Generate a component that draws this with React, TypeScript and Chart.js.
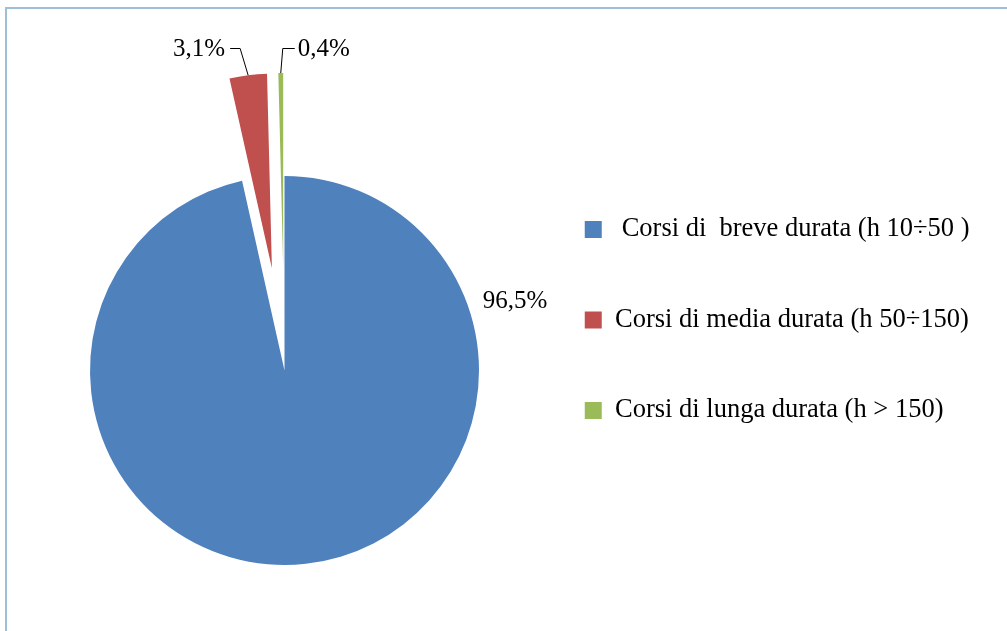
import React, { useEffect, useRef } from 'react';
import { Chart, registerables } from 'chart.js';

Chart.register(...registerables);

// ---- data ----
const categories = [
  ' Corsi di  breve durata (h 10÷50 )',
  'Corsi di media durata (h 50÷150)',
  'Corsi di lunga durata (h > 150)',
];
const values = [96.5, 3.1, 0.4];
const valueLabels = ['96,5%', '3,1%', '0,4%'];

// ---- styles ----
const colors = ['#4F81BD', '#C0504D', '#9BBB59'];
const explode = [0, 103, 103];
// label placement: 'ring' = free text at angle/distance; 'leader' = elbow leader line
const labelSpecs: any[] = [
  { kind: 'ring', angleDeg: -16.6, dist: 46 },
  { kind: 'leader', dx: -8, dy: -27, h: -10, gap: 5 },
  { kind: 'leader', dx: 2, dy: -25, h: 12, gap: 3 },
];

const explodePlugin = {
  id: 'explodeSlices',
  beforeDatasetDraw(chart: any, args: any) {
    const ctx = chart.ctx;
    args.meta.data.forEach((arc: any, i: number) => {
      const d = explode[i] || 0;
      const { startAngle, endAngle } = arc.getProps(['startAngle', 'endAngle'], true);
      const mid = (startAngle + endAngle) / 2;
      ctx.save();
      ctx.translate(Math.cos(mid) * d, Math.sin(mid) * d);
      arc.draw(ctx, chart.chartArea);
      ctx.restore();
    });
    return false;
  },
};

const labelPlugin = {
  id: 'sliceLabels',
  afterDatasetsDraw(chart: any) {
    const ctx = chart.ctx;
    const meta = chart.getDatasetMeta(0);
    ctx.save();
    ctx.font = '25px "Liberation Serif", "Times New Roman", serif';
    ctx.fillStyle = '#000';
    ctx.strokeStyle = '#000';
    ctx.lineWidth = 1;
    meta.data.forEach((arc: any, i: number) => {
      const { x, y, startAngle, endAngle, outerRadius } = arc.getProps(
        ['x', 'y', 'startAngle', 'endAngle', 'outerRadius'],
        true
      );
      const spec = labelSpecs[i];
      const mid = (startAngle + endAngle) / 2;
      const d = explode[i] || 0;
      const cx = x + Math.cos(mid) * d;
      const cy = y + Math.sin(mid) * d;
      if (spec.kind === 'ring') {
        const a = (spec.angleDeg * Math.PI) / 180;
        const r = outerRadius + spec.dist;
        ctx.textAlign = 'center';
        ctx.textBaseline = 'middle';
        ctx.fillText(valueLabels[i], cx + Math.cos(a) * r, cy + Math.sin(a) * r);
      } else {
        const ax = cx + Math.cos(mid) * outerRadius;
        const ay = cy + Math.sin(mid) * outerRadius;
        const ex = ax + spec.dx;
        const ey = Math.round(ay + spec.dy) + 0.5;
        const hx = ex + spec.h;
        ctx.beginPath();
        ctx.moveTo(ax, ay);
        ctx.lineTo(ex, ey);
        ctx.lineTo(hx, ey);
        ctx.stroke();
        ctx.textBaseline = 'middle';
        if (spec.h < 0) {
          ctx.textAlign = 'right';
          ctx.fillText(valueLabels[i], hx - spec.gap, ey + 1);
        } else {
          ctx.textAlign = 'left';
          ctx.fillText(valueLabels[i], hx + spec.gap, ey + 1);
        }
      }
    });
    ctx.restore();
  },
};

export default function App() {
  const canvasRef = useRef<HTMLCanvasElement | null>(null);

  useEffect(() => {
    if (!canvasRef.current) return;
    const chart = new Chart(canvasRef.current, {
      type: 'pie',
      data: {
        labels: categories,
        datasets: [
          {
            data: values,
            backgroundColor: colors,
            borderWidth: 0,
            radius: 194.5,
          } as any,
        ],
      },
      options: {
        responsive: false,
        animation: false,
        layout: {
          padding: { left: 48.25, right: 36.25, top: 152.25, bottom: 42.25 },
        },
        plugins: {
          legend: {
            position: 'right',
            align: 'start',
            maxWidth: 450,
            labels: {
              boxWidth: 17,
              boxHeight: 17,
              padding: 64,
              color: '#000',
              font: { family: '"Liberation Serif", "Times New Roman", serif', size: 26.5 },
            },
          },
          tooltip: { enabled: false },
        },
      } as any,
      plugins: [explodePlugin, labelPlugin],
    });
    return () => chart.destroy();
  }, []);

  return (
    <div
      style={{
        position: 'fixed',
        left: 0,
        top: 0,
        width: 1007,
        height: 631,
        overflow: 'hidden',
        background: '#fff',
      }}
    >
      <div
        style={{
          position: 'absolute',
          left: 5,
          top: 7,
          width: 1100,
          height: 700,
          border: '2px solid #9DC0DA',
        }}
      />
      <canvas
        ref={canvasRef}
        width={1007}
        height={631}
        style={{ position: 'absolute', left: 0, top: 0, display: 'block' }}
      />
    </div>
  );
}
